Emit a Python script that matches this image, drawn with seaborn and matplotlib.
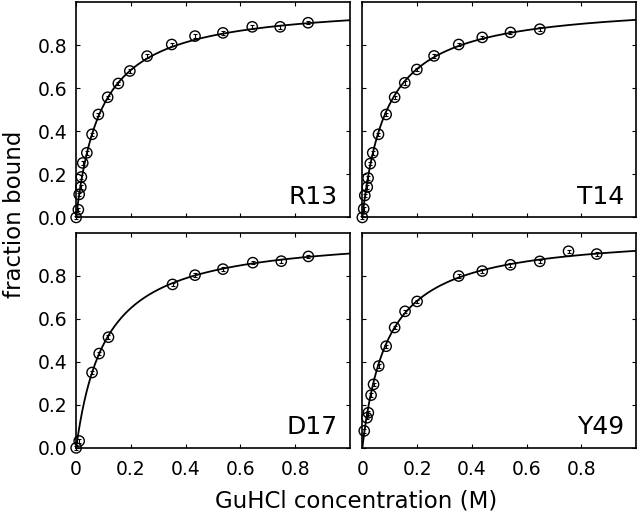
import numpy as np
import pandas as pd
import seaborn as sns
import matplotlib
matplotlib.use("Agg")
import matplotlib.pyplot as plt

# titration data (GuHCl in M, fraction bound)
panels = ["R13", "T14", "D17", "Y49"]

r13_x = [0.0, 0.008, 0.011, 0.017, 0.019, 0.024, 0.039, 0.058, 0.081, 0.115, 0.154,
         0.196, 0.259, 0.349, 0.434, 0.536, 0.643, 0.745, 0.847]
r13_y = [0.0, 0.036, 0.107, 0.141, 0.188, 0.253, 0.30, 0.386, 0.478, 0.558, 0.622,
         0.68, 0.749, 0.803, 0.842, 0.857, 0.885, 0.885, 0.904]

t14_x = [0.0, 0.005, 0.009, 0.018, 0.021, 0.029, 0.038, 0.059, 0.087, 0.118, 0.155,
         0.199, 0.262, 0.352, 0.438, 0.541, 0.648]
t14_y = [0.0, 0.04, 0.102, 0.141, 0.183, 0.25, 0.30, 0.386, 0.478, 0.558, 0.625,
         0.687, 0.75, 0.803, 0.836, 0.859, 0.874]

d17_x = [0.0, 0.011, 0.058, 0.084, 0.118, 0.352, 0.434, 0.536, 0.645, 0.749, 0.848]
d17_y = [0.0, 0.032, 0.35, 0.438, 0.514, 0.759, 0.802, 0.83, 0.86, 0.867, 0.889]

y49_x = [0.007, 0.017, 0.022, 0.032, 0.041, 0.06, 0.087, 0.118, 0.156, 0.2, 0.352,
         0.438, 0.541, 0.648, 0.753, 0.856]
y49_y = [0.079, 0.14, 0.163, 0.245, 0.295, 0.38, 0.472, 0.559, 0.634, 0.68, 0.798,
         0.821, 0.85, 0.866, 0.913, 0.90]

# fitted dissociation constants (M) for the hyperbolic binding curves
kd = {"R13": 0.092, "T14": 0.090, "D17": 0.108, "Y49": 0.093}
err = 0.008

data = {"R13": (r13_x, r13_y), "T14": (t14_x, t14_y),
        "D17": (d17_x, d17_y), "Y49": (y49_x, y49_y)}

sns.set_theme(style="ticks")
plt.rcParams["font.family"] = ["DejaVu Sans"]
for key in ["text.color", "axes.labelcolor", "xtick.color", "ytick.color", "axes.edgecolor"]:
    plt.rcParams[key] = "black"

fig, axes = plt.subplots(2, 2, figsize=(6.4, 5.16), dpi=100, sharex=True, sharey=True)
fig.subplots_adjust(left=0.119, right=0.994, top=0.996, bottom=0.132,
                    wspace=0.045, hspace=0.07)

xfit = np.linspace(0, 1.0, 400)
for ax, name in zip(axes.flat, panels):
    x, y = data[name]
    fit = pd.DataFrame({"x": xfit, "y": xfit / (kd[name] + xfit)})
    sns.lineplot(data=fit, x="x", y="y", ax=ax, color="black", lw=1.3)
    ax.errorbar(x, y, yerr=err, fmt="none", ecolor="black", elinewidth=0.8,
                capsize=1.5, capthick=0.8, clip_on=False, zorder=3)
    pts = pd.DataFrame({"x": x, "y": y})
    sns.scatterplot(data=pts, x="x", y="y", ax=ax, s=55, facecolor="none",
                    edgecolor="black", linewidth=1.0, clip_on=False, zorder=4)
    ax.text(0.955, 0.04, name, transform=ax.transAxes, ha="right", va="bottom",
            fontsize=18)
    ax.set_xlim(0, 1.0)
    ax.set_ylim(0, 1.0)
    ax.set_xticks([0, 0.2, 0.4, 0.6, 0.8])
    ax.set_xticklabels(["0", "0.2", "0.4", "0.6", "0.8"])
    ax.set_yticks([0, 0.2, 0.4, 0.6, 0.8])
    ax.set_yticklabels(["0.0", "0.2", "0.4", "0.6", "0.8"])
    ax.tick_params(direction="in", top=True, right=True, length=3, width=0.8,
                   labelsize=13.5)
    ax.tick_params(axis="x", pad=9)
    ax.tick_params(axis="y", pad=6)
    for s in ax.spines.values():
        s.set_linewidth(1.2)
    ax.set_xlabel("")
    ax.set_ylabel("")

fig.text(0.557, 0.03, "GuHCl concentration (M)", ha="center", va="center", fontsize=16.5)
fig.text(0.022, 0.585, "fraction bound", ha="center", va="center", rotation=90, fontsize=16.5)

fig.savefig("out.png", dpi=100)
